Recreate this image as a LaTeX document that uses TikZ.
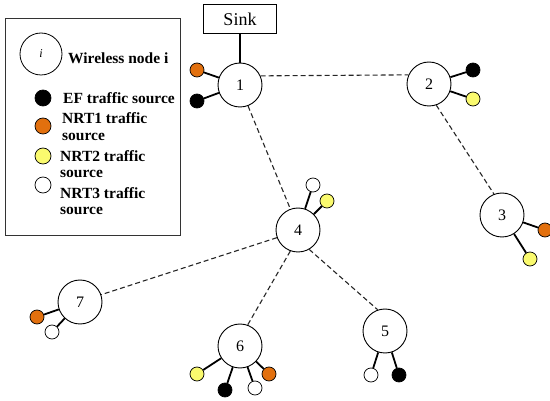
\documentclass[tikz,border=0pt]{standalone}
\usepackage{fontspec}
\setmainfont{Liberation Serif}
\definecolor{srcorange}{RGB}{226,112,14}
\definecolor{srcyellow}{RGB}{250,250,110}
\tikzset{
  wnode/.style={circle,draw=black,line width=0.9pt,minimum size=44pt,inner sep=0pt,fill=white,font=\fontsize{16}{18}\selectfont},
  src/.style={circle,draw=black,line width=0.7pt,minimum size=14pt,inner sep=0pt},
  legsrc/.style={circle,draw=black,line width=0.7pt,minimum size=16pt,inner sep=0pt},
  ef/.style={src,fill=black},
  nrtone/.style={src,fill=srcorange},
  nrttwo/.style={src,fill=srcyellow},
  nrtthree/.style={src,fill=white},
  link/.style={dashed,dash pattern=on 5pt off 3pt,line width=1.1pt,black!85},
  conn/.style={line width=1.8pt,black},
  legtext/.style={anchor=west,font=\bfseries\fontsize{15.5}{17}\selectfont,inner sep=0pt}
}
\begin{document}
\begin{tikzpicture}[x=1pt,y=-1pt]
\useasboundingbox (0,0) rectangle (550,401);
% legend
\node[draw=black!80,line width=0.9pt,minimum width=175pt,minimum height=217pt,anchor=north west,inner sep=0pt] (legend) at (5,18) {};
\node[circle,draw=black,line width=0.8pt,minimum size=42pt,inner sep=0pt,font=\itshape\fontsize{12}{14}\selectfont] (legi) at (41,54) {i};
\node[legtext] (tw) at (68,58) {Wireless node i};
\node[legsrc,fill=black] (lef) at (43,98) {};
\node[legtext] (tef) at (63,98) {EF traffic source};
\node[legsrc,fill=srcorange] (ln1) at (43,126) {};
\node[legtext] (tn1a) at (62,118) {NRT1 traffic};
\node[legtext] (tn1b) at (62,137) {source};
\node[legsrc,fill=srcyellow] (ln2) at (43,156) {};
\node[legtext] (tn2a) at (60,156) {NRT2 traffic};
\node[legtext] (tn2b) at (60,174) {source};
\node[legsrc,fill=white] (ln3) at (43,185) {};
\node[legtext] (tn3a) at (60,193) {NRT3 traffic};
\node[legtext] (tn3b) at (60,211) {source};
% sink
\node[draw=black,line width=0.9pt,minimum width=73pt,minimum height=29pt,inner sep=0pt,font=\fontsize{18}{20}\selectfont] (sink) at (240,19) {Sink};
% wireless nodes
\node[wnode] (n1) at (240,85) {1};
\node[wnode] (n2) at (429,84) {2};
\node[wnode] (n3) at (502,215) {3};
\node[wnode] (n4) at (298,230) {4};
\node[wnode] (n5) at (385,331) {5};
\node[wnode] (n6) at (240,346) {6};
\node[wnode] (n7) at (80,302) {7};
% links
\draw[conn,line width=1.6pt] (sink) -- (n1);
\draw[link] (n1.24) -- (n2.156);
\draw[link] (n1.-69) -- (n4.110);
\draw[link] (n2.-71) -- (n3.111);
\draw[link] (n4.200) -- (n7.19);
\draw[link] (n4.250) -- (n6.70);
\draw[link] (n4.-60) -- (n5.109);
% sources
\node[nrtone] (s1a) at (197,70) {};
\node[ef] (s1b) at (197,101) {};
\node[ef] (s2a) at (473,70) {};
\node[nrttwo] (s2b) at (473,99) {};
\node[nrtone] (s3a) at (545,230) {};
\node[nrttwo] (s3b) at (530,259) {};
\node[nrtthree] (s4a) at (313,185) {};
\node[nrttwo] (s4b) at (327,201) {};
\node[nrtthree] (s5a) at (371,375) {};
\node[ef] (s5b) at (399,375) {};
\node[nrttwo] (s6a) at (197,374) {};
\node[ef] (s6b) at (225,390) {};
\node[nrtthree] (s6c) at (255,388) {};
\node[nrtone] (s6d) at (269,374) {};
\node[nrtone] (s7a) at (37,317) {};
\node[nrtthree] (s7b) at (52,332) {};
\foreach \s/\n in {s1a/n1,s1b/n1,s2a/n2,s2b/n2,s3a/n3,s3b/n3,s4a/n4,s4b/n4,s5a/n5,s5b/n5,s6a/n6,s6b/n6,s6c/n6,s6d/n6,s7a/n7,s7b/n7}
  \draw[conn] (\n) -- (\s);
\end{tikzpicture}
\end{document}
